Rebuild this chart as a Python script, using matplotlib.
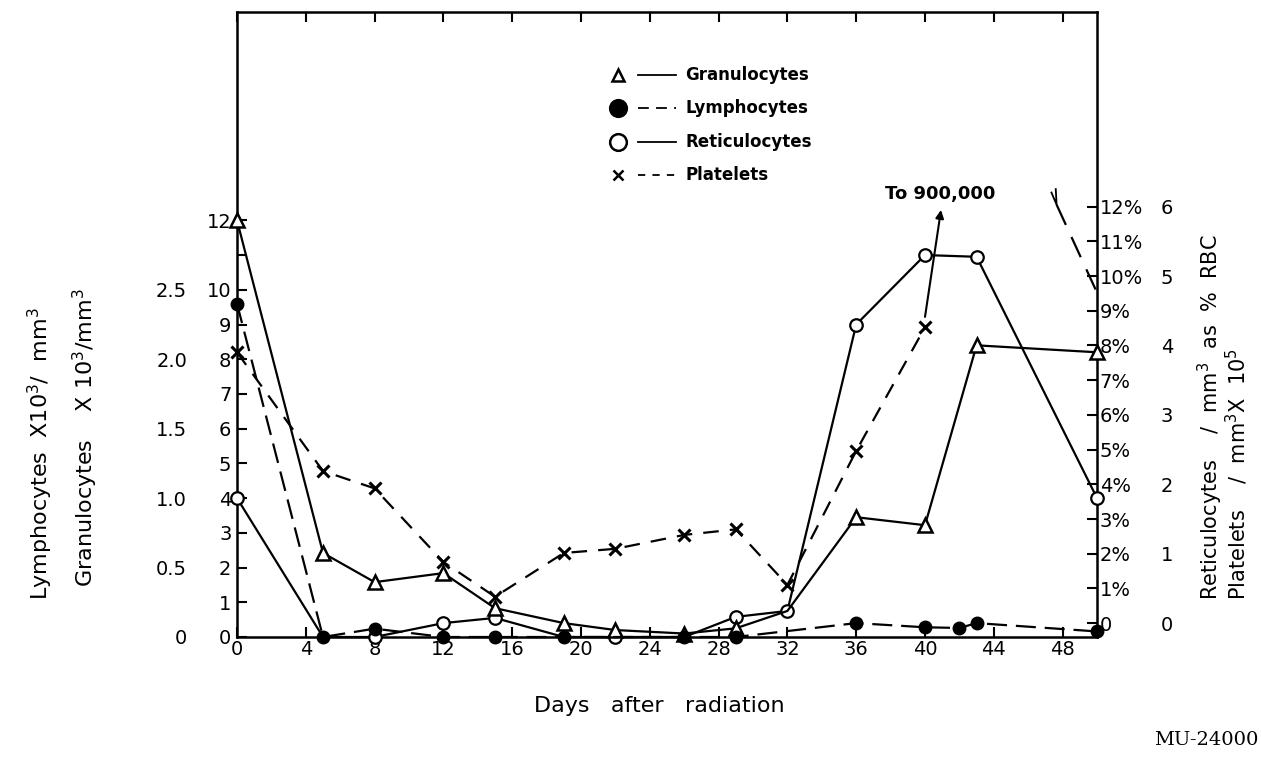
import numpy as np
import matplotlib
matplotlib.use("Agg")
import matplotlib.pyplot as plt

plt.rcParams['font.family'] = ['DejaVu Sans']
plt.rcParams['mathtext.default'] = 'regular'

# Granulocytes, x10^3 per mm^3 (left inner scale)
gran_days = [0, 5, 8, 12, 15, 19, 22, 26, 29, 32, 36, 40, 43, 50]
gran_vals = [12.0, 2.42, 1.58, 1.84, 0.83, 0.4, 0.2, 0.1, 0.25, 0.75, 3.45, 3.22, 8.4, 8.2]

# Lymphocytes, x10^3 per mm^3 (left outer scale)
lym_days = [0, 5, 8, 12, 15, 19, 26, 29, 36, 40, 42, 43, 50]
lym_vals = [2.4, 0.0, 0.06, 0.0, 0.0, 0.0, 0.0, 0.0, 0.1, 0.07, 0.065, 0.1, 0.04]

# Reticulocytes, % of RBC
ret_days = [0, 5, 8, 12, 15, 19, 22, 26, 29, 32, 36, 40, 43, 50]
ret_vals = [4.0, 0.0, 0.0, 0.4, 0.55, 0.0, 0.0, 0.0, 0.58, 0.75, 9.0, 11.0, 10.95, 4.0]

# Platelets, x10^5 per mm^3; the day 42.5 value runs off the top of the chart
plt_days = [0, 5, 8, 12, 15, 19, 22, 26, 29, 32, 36, 40, 42.5, 50]
plt_vals = [4.1, 2.39, 2.14, 1.08, 0.58, 1.21, 1.27, 1.47, 1.55, 0.75, 2.68, 4.46, 9.0, 4.96]

day_ticks = list(range(0, 49, 4))
gran_ticks = list(range(0, 13))
lym_ticks = [0, 0.5, 1.0, 1.5, 2.0, 2.5]
pct_ticks = list(range(0, 13))
plt_ticks = list(range(0, 7))

W, H = 1261, 759
fig = plt.figure(figsize=(W / 100, H / 100), dpi=100)
ax = fig.add_axes([237 / W, 1 - 637 / H, 860 / W, 625 / H])
ax.set_xlim(0, 50)
ax.set_ylim(0, 18)

lw = 1.6
for s in ax.spines.values():
    s.set_linewidth(1.8)

# everything is drawn on the left (granulocyte) scale:
# lymphocytes x4, reticulocyte % x1, platelets x2
ret_marks = [i for i, d in enumerate(ret_days) if d not in (5, 19, 26)]
ax.plot(ret_days, ret_vals, '-', color='black', lw=lw, marker='o', ms=9,
        mfc='white', mec='black', mew=1.6, markevery=ret_marks, clip_on=False, zorder=3)

gran_marks = [i for i, d in enumerate(gran_days) if d != 32]
ax.plot(gran_days, gran_vals, '-', color='black', lw=lw, marker='^', ms=10,
        mfc='white', mec='black', mew=1.8, markevery=gran_marks, clip_on=False, zorder=3)

ax.plot(lym_days, np.array(lym_vals) * 4, color='black', lw=lw, ls=(0, (9, 4)),
        marker='o', ms=9, mfc='black', mec='black', clip_on=False, zorder=4)

pd_arr = np.array(plt_days, dtype=float)
pv_arr = np.array(plt_vals) * 2
main = pd_arr <= 40
ax.plot(pd_arr[main], pv_arr[main], color='black', lw=lw, ls=(0, (7, 5)),
        marker='x', ms=8, mew=2.2, clip_on=False, zorder=3)

# rising segment toward the off-scale count, drawn as an arrow
tip_y = 12.3
t = (tip_y - pv_arr[11]) / (pv_arr[12] - pv_arr[11])
tip_x = pd_arr[11] + t * (pd_arr[12] - pd_arr[11])
ax.annotate('', xy=(tip_x, tip_y), xytext=(pd_arr[11], pv_arr[11] + 0.3),
            arrowprops=dict(arrowstyle='-|>', color='black', lw=1.5,
                            mutation_scale=12, shrinkA=0, shrinkB=0))
ax.text(40.9, 12.75, 'To 900,000', ha='center', va='center', fontsize=13,
        fontweight='bold')

# falling segment back from the off-scale count, visible below the top
top_vis = 12.45
t2 = (pv_arr[12] - top_vis) / (pv_arr[12] - pv_arr[13])
x_vis = pd_arr[12] + t2 * (pd_arr[13] - pd_arr[12])
ax.plot([x_vis, pd_arr[13]], [top_vis, pv_arr[13]], color='black', lw=lw,
        ls=(0, (10, 6)), clip_on=False)
ax.plot([x_vis - 0.3, x_vis, x_vis - 0.05], [top_vis + 0.35, top_vis, top_vis + 0.45],
        color='black', lw=1.3)

# axis ticks
ax.set_xticks(day_ticks)
ax.set_xticklabels([str(d) for d in day_ticks], fontsize=14)
ax.set_yticks(gran_ticks)
ax.set_yticklabels(['' if g == 11 else str(g) for g in gran_ticks], fontsize=14)
ax.tick_params(axis='x', direction='in', length=7, width=1.5, top=True, pad=2)
ax.tick_params(axis='y', direction='in', length=7, width=1.5, pad=4)

lym_ax = ax.secondary_yaxis('left', functions=(lambda g: g / 4, lambda l: l * 4))
lym_ax.set_yticks(lym_ticks)
lym_ax.set_yticklabels(['0', '0.5', '1.0', '1.5', '2.0', '2.5'], fontsize=14)
lym_ax.tick_params(length=0, pad=36)
lym_ax.spines['left'].set_visible(False)

axr = ax.twinx()
axr.set_ylim(-0.40, 17.61)
axr.set_yticks(pct_ticks)
axr.set_yticklabels(['0'] + ['%d%%' % p for p in pct_ticks[1:]], fontsize=14)
axr.tick_params(direction='in', length=7, width=1.5, pad=2)
for s in axr.spines.values():
    s.set_visible(False)

plt_ax = axr.secondary_yaxis('right', functions=(lambda p: p / 2, lambda q: q * 2))
plt_ax.set_yticks(plt_ticks)
plt_ax.set_yticklabels([str(v) for v in plt_ticks], fontsize=14)
plt_ax.tick_params(length=0, pad=46)
plt_ax.spines['right'].set_visible(False)

# legend: marker, line sample, label
leg_rows = [
    ('^', 'white', '-', 'Granulocytes'),
    ('o', 'black', (0, (6, 4)), 'Lymphocytes'),
    ('o', 'white', '-', 'Reticulocytes'),
    ('x', 'black', (0, (4, 4)), 'Platelets'),
]
leg_y = [0.899, 0.846, 0.792, 0.739]
for (mk, fc, ls, name), yy in zip(leg_rows, leg_y):
    ms = 12 if mk == 'o' else (8 if mk == '^' else 7)
    ax.plot([0.443], [yy], marker=mk, ms=ms, mfc=fc, mec='black', mew=1.8,
            color='black', transform=ax.transAxes, clip_on=False)
    ax.plot([0.466, 0.510], [yy, yy], color='black', lw=1.3, ls=ls,
            transform=ax.transAxes)
    ax.text(0.521, yy, name, transform=ax.transAxes, ha='left', va='center',
            fontsize=12, fontweight='bold')

# axis titles
fig.text(40 / W, 1 - 600 / H, r'Lymphocytes  X10$^3$/  mm$^3$', rotation=90,
         ha='center', va='bottom', fontsize=16)
fig.text(85 / W, 1 - 587 / H, r'Granulocytes    X 10$^3$/mm$^3$', rotation=90,
         ha='center', va='bottom', fontsize=16)
fig.text(1210 / W, 1 - 600 / H, r'Reticulocytes    /  mm$^3$  as  %  RBC', rotation=90,
         ha='center', va='bottom', fontsize=15)
fig.text(1237 / W, 1 - 600 / H, r'Platelets    /  mm$^3$X  10$^5$', rotation=90,
         ha='center', va='bottom', fontsize=15)
fig.text(659 / W, 1 - 706 / H, 'Days   after   radiation', ha='center', va='center',
         fontsize=16)
fig.text(1206 / W, 1 - 740 / H, 'MU-24000', ha='center', va='center', fontsize=14,
         family='DejaVu Serif')

fig.savefig('out.png', dpi=100)
